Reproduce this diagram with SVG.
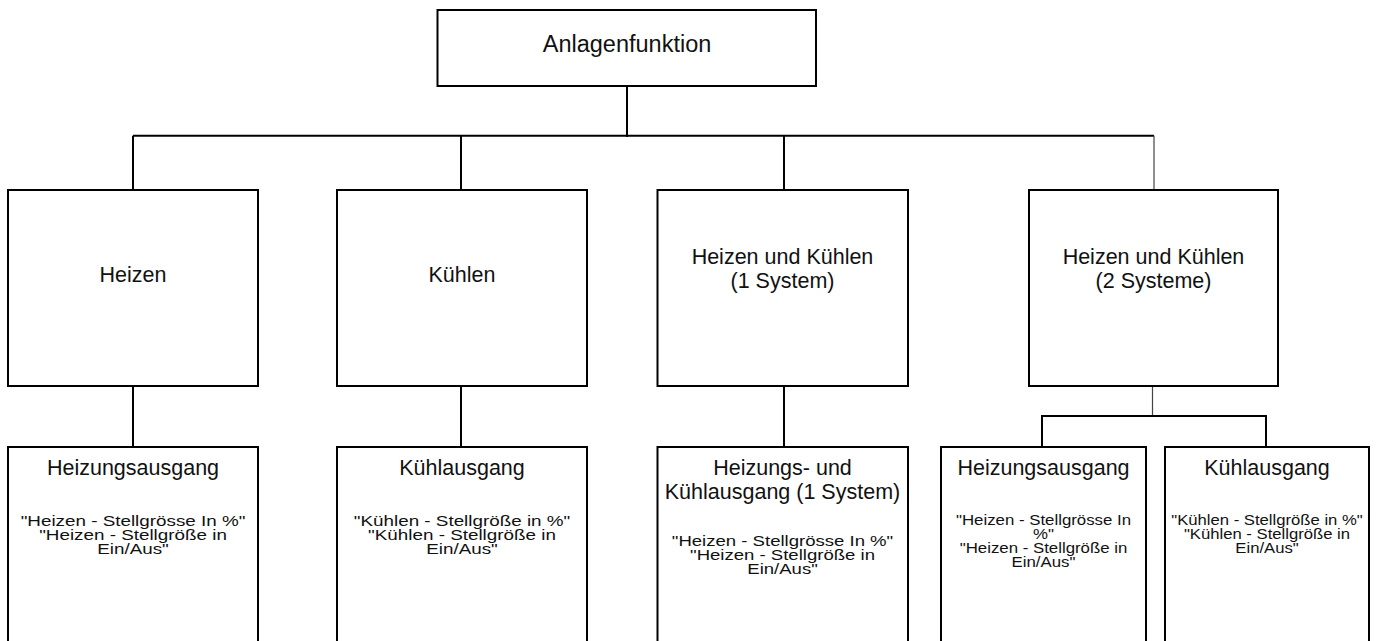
<svg xmlns="http://www.w3.org/2000/svg" width="1376" height="641" viewBox="0 0 1376 641">
<style>
  .box { fill: #ffffff; stroke: #000000; stroke-width: 2; }
  .ln { fill: none; stroke: #000000; stroke-width: 2; }
  .thin { fill: none; stroke: #444444; stroke-width: 1.2; }
  text { font-family: "Liberation Sans", Arial, Helvetica, sans-serif; fill: #111111; text-anchor: middle; }
  .t0 { font-size: 23.5px; }
  .t1 { font-size: 21.5px; }
  .t2 { font-size: 21.5px; }
  .b { font-size: 14.5px; }
</style>
<rect x="0" y="0" width="1376" height="641" fill="#ffffff"/>

<g id="connectors">
  <path class="ln" d="M627,86 V137 M133,135.7 H1154 M133,135.7 V190 M461,135.7 V190 M784,135.7 V190"/>
  <path class="thin" d="M1154,135.7 V190"/>
  <path class="ln" d="M133,386 V447 M461,386 V447 M784,386 V447"/>
  <path class="thin" d="M1152.5,386 V416"/>
  <path class="ln" d="M1042,447 V416 H1266 V447"/>
</g>

<g id="n-anlagenfunktion">
  <rect class="box" x="437.5" y="10" width="378.5" height="76"/>
  <text class="t0" x="627" y="52">Anlagenfunktion</text>
</g>

<g id="n-heizen">
  <rect class="box" x="8" y="190" width="250" height="196"/>
  <text class="t1" x="133" y="282">Heizen</text>
</g>
<g id="n-kuehlen">
  <rect class="box" x="337" y="190" width="250" height="196"/>
  <text class="t1" x="462" y="282">Kühlen</text>
</g>
<g id="n-hk1">
  <rect class="box" x="657.5" y="190" width="250.5" height="196"/>
  <text class="t1" x="782.5" y="264">Heizen und Kühlen</text>
  <text class="t1" x="782.5" y="288">(1 System)</text>
</g>
<g id="n-hk2">
  <rect class="box" x="1029" y="190" width="249" height="196"/>
  <text class="t1" x="1153.5" y="264">Heizen und Kühlen</text>
  <text class="t1" x="1153.5" y="288">(2 Systeme)</text>
</g>

<g id="n-heizungsausgang">
  <rect class="box" x="8" y="447" width="250" height="215"/>
  <text class="t2" x="133" y="475">Heizungsausgang</text>
  <g transform="translate(133,0) scale(1.3,1)">
    <text class="b" x="0" y="526.5">"Heizen - Stellgrösse In %"</text>
    <text class="b" x="0" y="540.5">"Heizen - Stellgröße in</text>
    <text class="b" x="0" y="554.5">Ein/Aus"</text>
  </g>
</g>
<g id="n-kuehlausgang">
  <rect class="box" x="337" y="447" width="250" height="215"/>
  <text class="t2" x="462" y="475">Kühlausgang</text>
  <g transform="translate(462,0) scale(1.3,1)">
    <text class="b" x="0" y="526.5">"Kühlen - Stellgröße in %"</text>
    <text class="b" x="0" y="540.5">"Kühlen - Stellgröße in</text>
    <text class="b" x="0" y="554.5">Ein/Aus"</text>
  </g>
</g>
<g id="n-hk-ausgang">
  <rect class="box" x="657.5" y="447" width="250.5" height="215"/>
  <text class="t2" x="782.5" y="475">Heizungs- und</text>
  <text class="t2" x="782.5" y="499">Kühlausgang (1 System)</text>
  <g transform="translate(782.5,0) scale(1.28,1)">
    <text class="b" x="0" y="546.5">"Heizen - Stellgrösse In %"</text>
    <text class="b" x="0" y="560.5">"Heizen - Stellgröße in</text>
    <text class="b" x="0" y="574.5">Ein/Aus"</text>
  </g>
</g>
<g id="n-heizungsausgang-2">
  <rect class="box" x="941" y="447" width="205" height="215"/>
  <text class="t2" x="1043.5" y="475">Heizungsausgang</text>
  <g transform="translate(1043.5,0) scale(1.16,1)">
    <text class="b" x="0" y="525">"Heizen - Stellgrösse In</text>
    <text class="b" x="0" y="539">%"</text>
    <text class="b" x="0" y="553">"Heizen - Stellgröße in</text>
    <text class="b" x="0" y="567">Ein/Aus"</text>
  </g>
</g>
<g id="n-kuehlausgang-2">
  <rect class="box" x="1165" y="447" width="204" height="215"/>
  <text class="t2" x="1267" y="475">Kühlausgang</text>
  <g transform="translate(1267,0) scale(1.15,1)">
    <text class="b" x="0" y="525.5">"Kühlen - Stellgröße in %"</text>
    <text class="b" x="0" y="539.5">"Kühlen - Stellgröße in</text>
    <text class="b" x="0" y="553">Ein/Aus"</text>
  </g>
</g>
</svg>
